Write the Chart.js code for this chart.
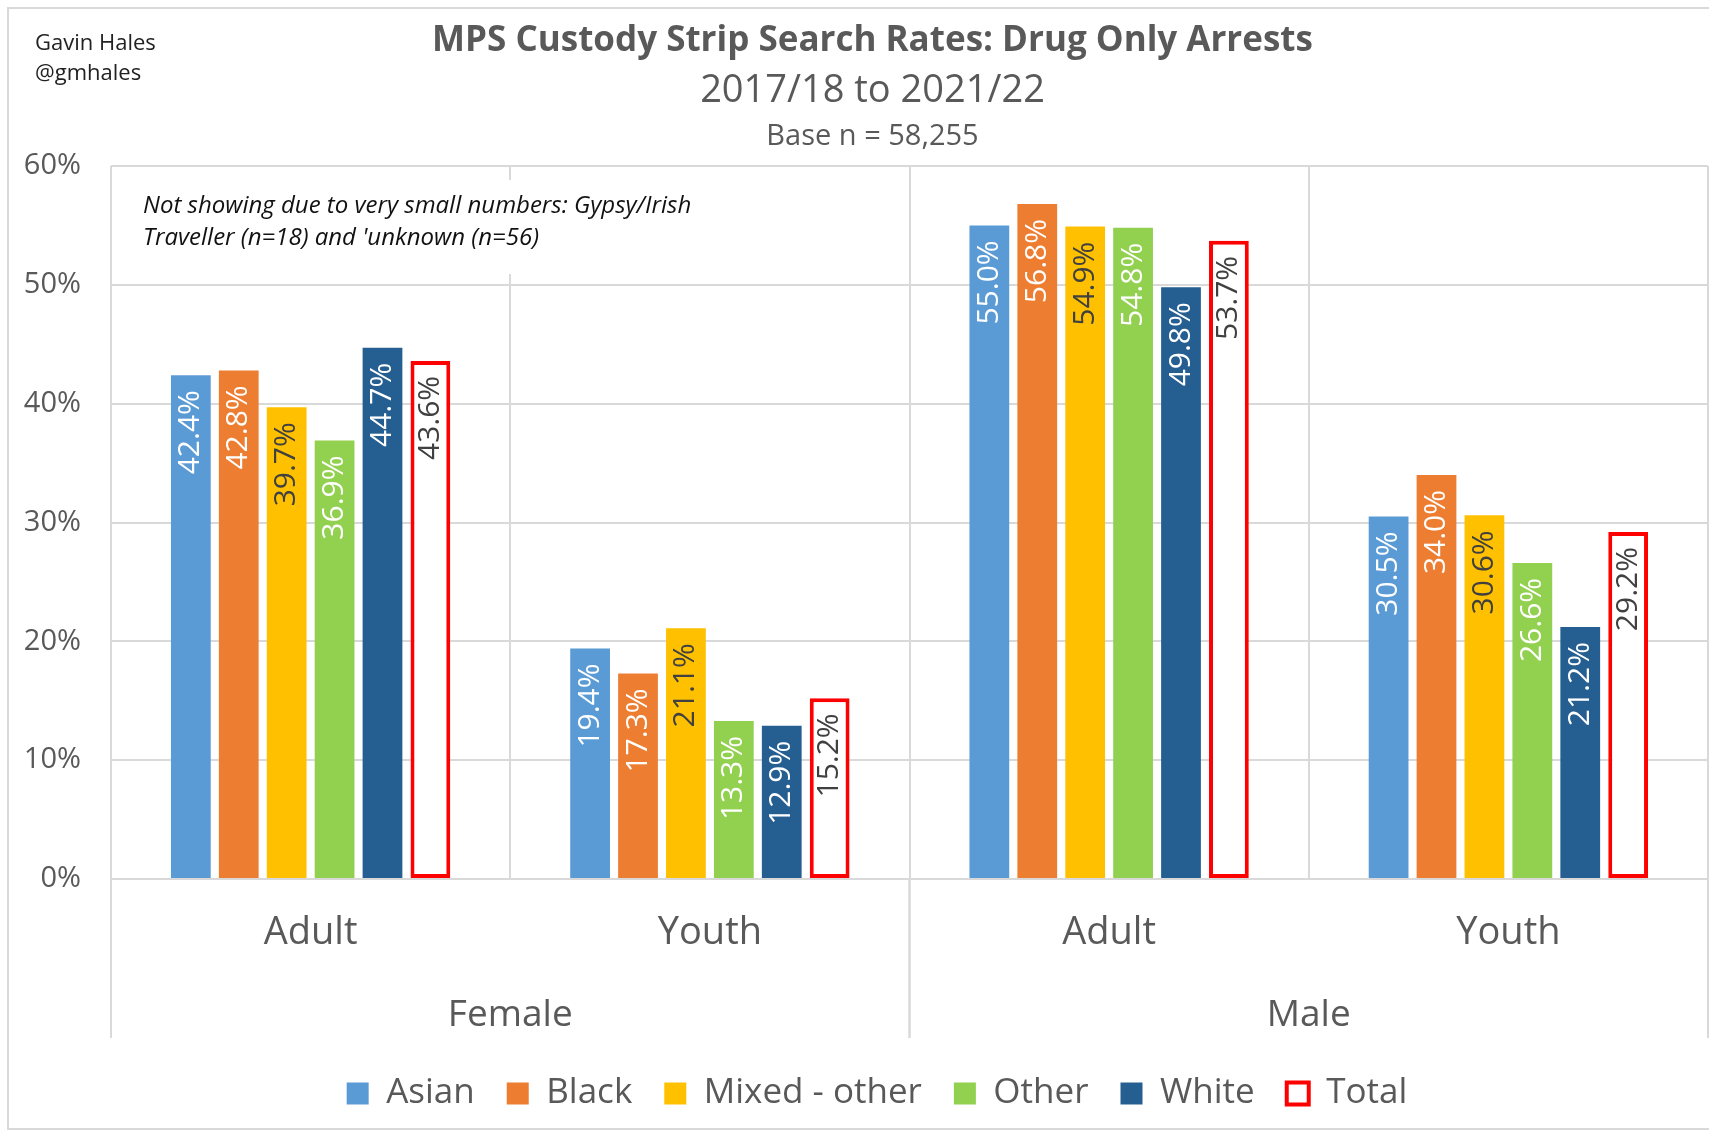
<!DOCTYPE html>
<html>
<head>
<meta charset="utf-8">
<script src="https://cdn.jsdelivr.net/npm/chart.js@4.4.0/dist/chart.umd.min.js"></script>
<style>
  html, body { margin: 0; padding: 0; background: #fff; overflow: hidden; }
  #wrap { width: 1745px; height: 1131px; }
</style>
</head>
<body>
<div id="wrap"><canvas id="chart" width="1745" height="1131"></canvas></div>
<script>
// data
const sexGroups = ['Female', 'Male'];
const ageBands = ['Adult', 'Youth', 'Adult', 'Youth'];
const asian = [42.4, 19.4, 55.0, 30.5];
const black = [42.8, 17.3, 56.8, 34.0];
const mixedOther = [39.7, 21.1, 54.9, 30.6];
const other = [36.9, 13.3, 54.8, 26.6];
const white = [44.7, 12.9, 49.8, 21.2];
const total = [43.6, 15.2, 53.7, 29.2];
const yMax = 60;
const yStep = 10;

const FONT = "'Open Sans', sans-serif";
const GREY = '#595959';
const GRID = '#d9d9d9';

// frame, background
const framePlugin = {
  id: 'frame',
  beforeDraw(chart) {
    const ctx = chart.ctx;
    ctx.save();
    ctx.fillStyle = '#fff';
    ctx.fillRect(0, 0, chart.width, chart.height);
    ctx.strokeStyle = GRID;
    ctx.lineWidth = 2;
    ctx.strokeRect(8, 8, chart.width, 1121);
    ctx.restore();
  }
};

// legend sits a bit right of the plot centre, like the original
const legendShift = {
  id: 'legendShift',
  afterLayout(chart) {
    const lg = chart.legend;
    if (!lg) return;
    lg.left += 23;
    lg.right += 23;
  }
};

// titles + author
const titlesPlugin = {
  id: 'titles',
  afterDraw(chart) {
    const ctx = chart.ctx;
    const cx = chart.width / 2;
    ctx.save();
    ctx.textBaseline = 'middle';
    ctx.textAlign = 'center';
    ctx.fillStyle = GREY;
    ctx.font = 'bold 35px ' + FONT;
    ctx.fillText('MPS Custody Strip Search Rates: Drug Only Arrests', cx, 41);
    ctx.font = '38px ' + FONT;
    ctx.fillText('2017/18 to 2021/22', cx, 91);
    ctx.font = '29px ' + FONT;
    ctx.fillText('Base n = 58,255', cx, 137);

    ctx.textAlign = 'left';
    ctx.fillStyle = '#222';
    ctx.font = '22px ' + FONT;
    ctx.fillText('Gavin Hales', 35, 44);
    ctx.fillText('@gmhales', 35, 74);
    ctx.restore();
  }
};

// note box in top left of the plot
const notePlugin = {
  id: 'note',
  beforeDatasetsDraw(chart) {
    const ctx = chart.ctx;
    const a = chart.chartArea;
    ctx.save();
    ctx.fillStyle = '#fff';
    ctx.fillRect(a.left + 4, a.top + 14, 600, 94);
    ctx.fillStyle = '#111';
    ctx.font = 'italic 24px ' + FONT;
    ctx.textBaseline = 'middle';
    ctx.textAlign = 'left';
    ctx.fillText('Not showing due to very small numbers: Gypsy/Irish', a.left + 32, a.top + 40);
    ctx.fillText("Traveller (n=18) and 'unknown (n=56)", a.left + 32, a.top + 72);
    ctx.restore();
  }
};

// rotated value labels inside the bar ends
const valueLabels = {
  id: 'valueLabels',
  afterDatasetsDraw(chart) {
    const ctx = chart.ctx;
    ctx.save();
    ctx.font = '30px ' + FONT;
    ctx.textBaseline = 'middle';
    ctx.textAlign = 'right';
    chart.data.datasets.forEach((ds, i) => {
      const meta = chart.getDatasetMeta(i);
      meta.data.forEach((bar, j) => {
        ctx.save();
        ctx.translate(bar.x, bar.y + 15);
        ctx.rotate(-Math.PI / 2);
        ctx.fillStyle = ds.labelColor;
        ctx.fillText(ds.data[j].toFixed(1) + '%', 0, 0);
        ctx.restore();
      });
    });
    ctx.restore();
  }
};

// second level of the category axis (Female / Male)
const groupAxis = {
  id: 'groupAxis',
  afterDraw(chart) {
    const ctx = chart.ctx;
    const x = chart.scales.x;
    const a = chart.chartArea;
    const per = ageBands.length / sexGroups.length;
    const half = (x.getPixelForValue(1) - x.getPixelForValue(0)) / 2;
    ctx.save();
    ctx.strokeStyle = GRID;
    ctx.lineWidth = 2;
    ctx.fillStyle = GREY;
    ctx.font = '37px ' + FONT;
    ctx.textAlign = 'center';
    ctx.textBaseline = 'middle';
    sexGroups.forEach((g, k) => {
      const left = x.getPixelForValue(k * per) - half;
      const right = x.getPixelForValue(k * per + per - 1) + half;
      ctx.beginPath();
      ctx.moveTo(left, a.bottom);
      ctx.lineTo(left, a.bottom + 159);
      ctx.moveTo(right, a.bottom);
      ctx.lineTo(right, a.bottom + 159);
      ctx.stroke();
      ctx.fillText(g, (left + right) / 2, a.bottom + 136);
    });
    ctx.restore();
  }
};

const barOpts = { categoryPercentage: 0.72, barPercentage: 0.83, borderWidth: 0 };

new Chart(document.getElementById('chart'), {
  type: 'bar',
  data: {
    labels: ageBands,
    datasets: [
      { label: 'Asian', data: asian, backgroundColor: '#5B9BD5', labelColor: '#fff', ...barOpts },
      { label: 'Black', data: black, backgroundColor: '#ED7D31', labelColor: '#fff', ...barOpts },
      { label: 'Mixed - other', data: mixedOther, backgroundColor: '#FFC000', labelColor: '#404040', ...barOpts },
      { label: 'Other', data: other, backgroundColor: '#92D050', labelColor: '#fff', ...barOpts },
      { label: 'White', data: white, backgroundColor: '#255E91', labelColor: '#fff', ...barOpts },
      { label: 'Total', data: total, backgroundColor: '#fff', labelColor: '#404040', ...barOpts,
        borderColor: '#FF0000', borderWidth: 4, borderSkipped: false }
    ]
  },
  options: {
    responsive: false,
    animation: false,
    layout: { padding: { left: 0, right: 37, top: 166, bottom: 10 } },
    plugins: {
      title: { display: false },
      tooltip: { enabled: false },
      legend: {
        position: 'bottom',
        labels: {
          font: { family: FONT, size: 35 },
          color: GREY,
          boxWidth: 22,
          boxHeight: 22,
          padding: 32
        }
      }
    },
    scales: {
      x: {
        grid: { offset: true, color: GRID, lineWidth: 2, drawTicks: false },
        border: { color: GRID, width: 2 },
        ticks: { font: { family: FONT, size: 38 }, color: GREY, padding: 31 },
        afterFit(scale) { scale.height = 165; }
      },
      y: {
        min: 0,
        max: yMax,
        grid: { color: GRID, lineWidth: 2, drawTicks: false },
        border: { display: false },
        ticks: {
          stepSize: yStep,
          font: { family: FONT, size: 29 },
          color: GREY,
          padding: 30,
          callback: (v) => v + '%'
        },
        afterFit(scale) { scale.width = 111; }
      }
    }
  },
  plugins: [framePlugin, legendShift, notePlugin, valueLabels, groupAxis, titlesPlugin]
});
</script>
</body>
</html>
